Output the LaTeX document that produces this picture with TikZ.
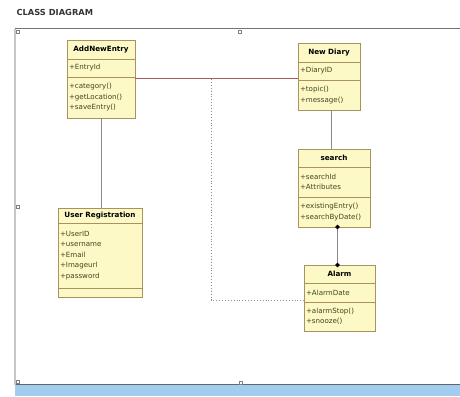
\documentclass[tikz,border=0pt]{standalone}
\usepackage{fontspec}
\setmainfont{DejaVu Sans}
\usepackage{tikz}
\usetikzlibrary{arrows.meta, positioning}
\definecolor{clsfill}{HTML}{FDF9C6}
\definecolor{clsline}{HTML}{A8925E}
\definecolor{clstext}{HTML}{44441E}
\definecolor{linkred}{HTML}{B05858}
\definecolor{linkgrey}{HTML}{8A8A8A}
\definecolor{bandblue}{HTML}{A2CDF0}

\begin{document}
\begin{tikzpicture}[
  x=1pt, y=-1pt,
  cls head/.style={draw=clsline, fill=clsfill, line width=0.8pt, inner xsep=2pt, inner ysep=0pt, outer sep=0pt,
    align=center, font=\fontsize{7.2}{8}\selectfont\bfseries},
  cls part/.style={draw=clsline, fill=clsfill, line width=0.8pt, inner xsep=2pt, inner ysep=0pt, outer sep=0pt,
    align=left, text=clstext, font=\fontsize{7.1}{10.5}\selectfont},
  assoc line/.style={draw=linkgrey, line width=0.9pt},
  red line/.style={draw=linkred, line width=1pt},
  dep line/.style={draw=linkgrey, line width=0.9pt, dotted},
  handle/.style={draw=gray, fill=white, line width=0.5pt, minimum size=3pt, inner sep=0pt}
]
  \useasboundingbox (0,0) rectangle (460,396);

  % frame
  \node[anchor=west, font=\fontsize{8.3}{9}\selectfont\bfseries, text=black!80] (title) at (13,12) {CLASS DIAGRAM};
  \fill[bandblue] (15,385) rectangle (460,396);
  \draw[gray!80!black, line width=1pt] (15,384.5) -- (460,384.5);
  \draw[gray!90!black, line width=1pt] (15,29) -- (460,29);
  \draw[gray!45, line width=1.5pt] (15,29) -- (15,385);
  \node[handle] (h1) at (18,32) {};
  \node[handle] (h2) at (240,32) {};
  \node[handle] (h3) at (18,207) {};
  \node[handle] (h4) at (18,382) {};
  \node[handle] (h5) at (241,383) {};

  % AddNewEntry
  \node[cls head, text width=64pt, minimum height=19pt] (entry) at (101,49.5) {AddNewEntry};
  \node[cls part, text width=64pt, minimum height=18pt, below=0pt of entry] (entry attr) {+EntryId};
  \node[cls part, text width=64pt, minimum height=41pt, below=0pt of entry attr] (entry ops) {+category()\\+getLocation()\\+saveEntry()};

  % New Diary
  \node[cls head, text width=58pt, minimum height=19pt] (diary) at (329,52.5) {New Diary};
  \node[cls part, text width=58pt, minimum height=18pt, below=0pt of diary] (diary attr) {+DiaryID};
  \node[cls part, text width=58pt, minimum height=30pt, below=0pt of diary attr] (diary ops) {+topic()\\+message()};

  % search
  \node[cls head, text width=68pt, minimum height=18pt] (search) at (334,158) {search};
  \node[cls part, text width=68pt, minimum height=30pt, below=0pt of search] (search attr) {+searchId\\+Attributes};
  \node[cls part, text width=68pt, minimum height=30pt, below=0pt of search attr] (search ops) {+existingEntry()\\+searchByDate()};

  % User Registration
  \node[cls head, text width=80pt, minimum height=15pt] (user) at (100,215.5) {User Registration};
  \node[cls part, text width=80pt, minimum height=65pt, below=0pt of user] (user attr) {+UserID\\+username\\+Email\\+Imageurl\\+password};
  \node[cls part, text width=80pt, minimum height=9pt, below=0pt of user attr] (user ops) {};

  % Alarm
  \node[cls head, text width=67pt, minimum height=18pt] (alarm) at (339.5,274) {Alarm};
  \node[cls part, text width=67pt, minimum height=19pt, below=0pt of alarm] (alarm attr) {+AlarmDate};
  \node[cls part, text width=67pt, minimum height=29pt, below=0pt of alarm attr] (alarm ops) {+alarmStop()\\+snooze()};

  % links
  \draw[red line] ([yshift=-1.5pt]entry attr.south east) -- ([yshift=-1.5pt]diary attr.west |- entry attr.south east);
  \coordinate (tap) at (211,79);
  \draw[dep line] (tap) |- ([yshift=2pt]alarm attr.south west);
  \draw[assoc line] (entry ops.south) -- (entry ops.south |- user.north);
  \draw[assoc line] ([xshift=2pt]diary ops.south) -- ([xshift=2pt]diary ops.south |- search.north);
  \draw[assoc line, {Circle[length=4.5pt, fill=black, black]}-{Circle[length=4.5pt, fill=black, black]}, shorten <=-2.2pt, shorten >=-2.2pt]
    ([xshift=-2pt]search ops.south -| alarm.north) -- ([xshift=-2pt]alarm.north);
\end{tikzpicture}
\end{document}
